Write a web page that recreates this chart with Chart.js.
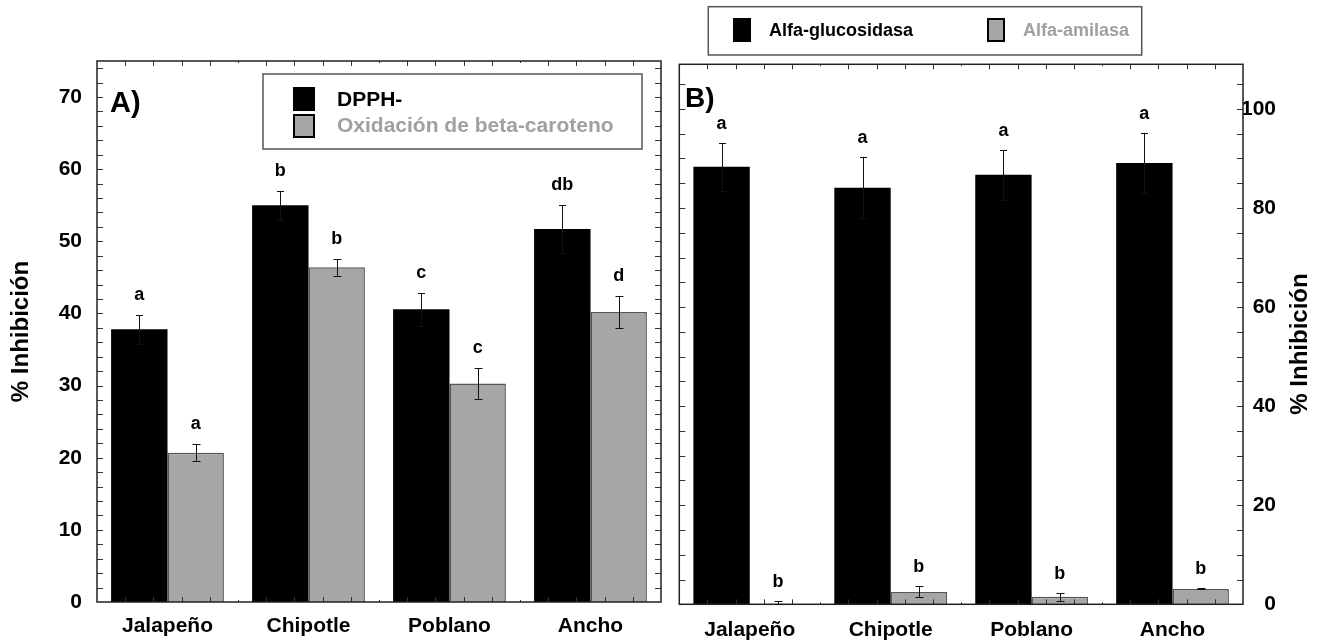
<!DOCTYPE html>
<html><head><meta charset="utf-8">
<script src="https://cdn.jsdelivr.net/npm/chart.js@4.4.1/dist/chart.umd.min.js"></script>
<style>
html,body{margin:0;padding:0;background:#fff;overflow:hidden}
#wrap{position:relative;width:1322px;height:643px;background:#fff}
canvas{position:absolute;top:0}
#cA{left:0}
#cB{left:665px}
</style></head><body>
<div id="wrap"><canvas id="cA" width="665" height="643"></canvas><canvas id="cB" width="657" height="643"></canvas></div>
<script>
// ---------- DATA ----------
const categories = ['Jalapeño', 'Chipotle', 'Poblano', 'Ancho'];

// Panel A
const dpphLabel = 'DPPH-';
const dpphValues = [37.8, 55.0, 40.6, 51.7];
const dpphErrors = [2.0, 2.0, 2.3, 3.3];
const dpphLetters = ['a', 'b', 'c', 'db'];
const betaLabel = 'Oxidación de beta-caroteno';
const betaValues = [20.7, 46.4, 30.3, 40.2];
const betaErrors = [1.15, 1.2, 2.1, 2.2];
const betaLetters = ['a', 'b', 'c', 'd'];
const yTicksA = [0, 10, 20, 30, 40, 50, 60, 70];

// Panel B
const glucoLabel = 'Alfa-glucosidasa';
const glucoValues = [88.3, 84.1, 86.7, 89.1];
const glucoErrors = [4.9, 6.1, 5.0, 6.0];
const glucoLetters = ['a', 'a', 'a', 'a'];
const amilLabel = 'Alfa-amilasa';
const amilValues = [0.1, 2.5, 1.5, 3.1];
const amilErrors = [0.6, 1.1, 0.75, 0.1];
const amilLetters = ['b', 'b', 'b', 'b'];
const yTicksB = [0, 20, 40, 60, 80, 100];

const yTitle = '% Inhibición';

// ---------- STYLE ----------
const FONT = "'Liberation Sans', Arial, Helvetica, sans-serif";
Chart.defaults.font.family = FONT;
function bold(px) { return 'bold ' + px + 'px ' + FONT; }
const BLACK = '#000000';
const GRAY = '#a6a6a6';
const GRAY_EDGE = '#555555';
const GRAY_TEXT = '#a0a0a0';

const decorPlugin = {
  id: 'decor',
  afterDatasetsDraw(chart, args, opts) {
    const ctx = chart.ctx;
    const {left, right, top, bottom} = chart.chartArea;
    const y = chart.scales.y;
    ctx.save();
    // inward tick marks
    ctx.strokeStyle = '#333';
    ctx.lineWidth = 1;
    ctx.beginPath();
    const w = (right - left) / opts.xDiv;
    for (let i = 1; i < opts.xDiv; i++) {
      const x = Math.round(left + i * w) + 0.5;
      const len = (i % opts.xPerCat === 0) ? 2 : 5;
      ctx.moveTo(x, top); ctx.lineTo(x, top + len);
      ctx.moveTo(x, bottom); ctx.lineTo(x, bottom - len);
    }
    for (let v = opts.yMinor; v < y.max; v += opts.yMinor) {
      const py = Math.round(y.getPixelForValue(v)) + 0.5;
      ctx.moveTo(left, py); ctx.lineTo(left + 6, py);
      ctx.moveTo(right, py); ctx.lineTo(right - 6, py);
    }
    ctx.stroke();
    // frame
    ctx.lineWidth = 1.5;
    ctx.strokeStyle = '#222';
    ctx.strokeRect(left, top, right - left, bottom - top);
    // error bars + letters
    chart.data.datasets.forEach((ds, di) => {
      const meta = chart.getDatasetMeta(di);
      const errs = opts.errors[di];
      const lets = opts.letters[di];
      const cap = opts.capHalf[di];
      meta.data.forEach((bar, i) => {
        const v = ds.data[i], e = errs[i];
        const yt = Math.round(y.getPixelForValue(v + e)) + 0.5;
        const yb = Math.round(y.getPixelForValue(Math.max(0, v - e))) + 0.5;
        const x = Math.round(bar.x) + 0.5;
        ctx.strokeStyle = '#111';
        ctx.lineWidth = 1;
        ctx.beginPath();
        ctx.moveTo(x, yt); ctx.lineTo(x, yb);
        ctx.moveTo(x - cap, yt); ctx.lineTo(x + cap, yt);
        ctx.moveTo(x - cap, yb); ctx.lineTo(x + cap, yb);
        ctx.stroke();
        ctx.fillStyle = BLACK;
        ctx.font = bold(18);
        ctx.textAlign = 'center';
        ctx.textBaseline = 'middle';
        ctx.fillText(lets[i], bar.x, yt - opts.letterGap);
      });
    });
    ctx.restore();
  },
  afterDraw(chart, args, opts) {
    const ctx = chart.ctx;
    ctx.save();
    // legend
    const lg = opts.legend;
    ctx.lineWidth = 1.5;
    ctx.strokeStyle = '#555';
    ctx.strokeRect(lg.box[0], lg.box[1], lg.box[2], lg.box[3]);
    chart.data.datasets.forEach((ds, di) => {
      const it = lg.items[di];
      ctx.fillStyle = ds.backgroundColor;
      ctx.fillRect(it.sw[0], it.sw[1], it.sw[2], it.sw[3]);
      if (ds.backgroundColor !== BLACK) {
        ctx.lineWidth = 2;
        ctx.strokeStyle = BLACK;
        ctx.strokeRect(it.sw[0] + 1, it.sw[1] + 1, it.sw[2] - 2, it.sw[3] - 2);
      }
      ctx.fillStyle = lg.textColors[di];
      ctx.font = bold(lg.font);
      ctx.textAlign = 'left';
      ctx.textBaseline = 'middle';
      ctx.fillText(ds.label, it.tx[0], it.tx[1]);
    });
    // panel label
    const pl = opts.panelLabel;
    ctx.fillStyle = BLACK;
    ctx.font = bold(pl.size);
    ctx.textAlign = 'left';
    ctx.textBaseline = 'alphabetic';
    ctx.fillText(pl.text, pl.x, pl.y);
    // side title (reads bottom-to-top)
    if (opts.sideTitle) {
      const st = opts.sideTitle;
      ctx.translate(st.x, st.y);
      ctx.rotate(-Math.PI / 2);
      ctx.font = bold(st.size);
      ctx.textAlign = 'center';
      ctx.textBaseline = 'middle';
      ctx.fillStyle = BLACK;
      ctx.fillText(st.text, 0, 0);
    }
    ctx.restore();
  }
};

const tickFont = {size: 21, weight: 'bold'};

// ---------- PANEL A ----------
new Chart(document.getElementById('cA'), {
  type: 'bar',
  data: {
    labels: categories,
    datasets: [
      {label: dpphLabel, data: dpphValues, backgroundColor: BLACK, borderColor: BLACK, borderWidth: 0},
      {label: betaLabel, data: betaValues, backgroundColor: GRAY, borderColor: GRAY_EDGE, borderWidth: 1.5}
    ]
  },
  options: {
    responsive: false, animation: false, devicePixelRatio: 1,
    datasets: {bar: {categoryPercentage: 0.8, barPercentage: 1.0}},
    layout: {padding: {top: 61, right: 4, left: 0, bottom: 0}},
    plugins: {
      legend: {display: false},
      tooltip: {enabled: false},
      decor: {
        errors: [dpphErrors, betaErrors],
        letters: [dpphLetters, betaLetters],
        capHalf: [3.5, 4],
        letterGap: 20,
        xDiv: 20, xPerCat: 5, yMinor: 2,
        legend: {
          box: [263, 74, 379, 75], font: 21, textColors: [BLACK, GRAY_TEXT],
          items: [{sw: [293, 87, 22, 24], tx: [337, 100]}, {sw: [293, 114, 22, 24], tx: [337, 126]}]
        },
        panelLabel: {text: 'A)', x: 110, y: 112, size: 29}
      }
    },
    scales: {
      x: {
        grid: {display: false, drawTicks: false}, border: {display: false},
        ticks: {font: tickFont, color: BLACK, padding: 12, maxRotation: 0, autoSkip: false},
        afterFit: s => { s.height = 41; }
      },
      y: {
        min: 0, max: 75,
        grid: {display: false, drawTicks: false}, border: {display: false},
        afterBuildTicks: s => { s.ticks = yTicksA.map(v => ({value: v})); },
        ticks: {font: tickFont, color: BLACK, padding: 15, autoSkip: false},
        title: {display: true, text: yTitle, color: BLACK, font: {size: 24, weight: 'bold'}, padding: {top: 7, bottom: 0}},
        afterFit: s => { s.width = 97; }
      }
    }
  },
  plugins: [decorPlugin]
});

// ---------- PANEL B ----------
new Chart(document.getElementById('cB'), {
  type: 'bar',
  data: {
    labels: categories,
    datasets: [
      {label: glucoLabel, data: glucoValues, backgroundColor: BLACK, borderColor: BLACK, borderWidth: 0},
      {label: amilLabel, data: amilValues, backgroundColor: GRAY, borderColor: GRAY_EDGE, borderWidth: 1.5}
    ]
  },
  options: {
    responsive: false, animation: false, devicePixelRatio: 1,
    datasets: {bar: {categoryPercentage: 0.8, barPercentage: 1.0}},
    layout: {padding: {top: 64.3, right: 46, left: 14.3, bottom: 0}},
    plugins: {
      legend: {display: false},
      tooltip: {enabled: false},
      decor: {
        errors: [glucoErrors, amilErrors],
        letters: [glucoLetters, amilLetters],
        capHalf: [3.5, 4],
        letterGap: 19,
        xDiv: 20, xPerCat: 5, yMinor: 5,
        legend: {
          box: [43.3, 6.7, 433.4, 48.3], font: 18, textColors: [BLACK, GRAY_TEXT],
          items: [{sw: [68, 18, 18, 24], tx: [104, 31]}, {sw: [322, 18, 18, 24], tx: [358, 31]}]
        },
        panelLabel: {text: 'B)', x: 20, y: 107, size: 28},
        sideTitle: {text: yTitle, x: 635, y: 344, size: 24}
      }
    },
    scales: {
      x: {
        grid: {display: false, drawTicks: false}, border: {display: false},
        ticks: {font: tickFont, color: BLACK, padding: 13, maxRotation: 0, autoSkip: false},
        afterFit: s => { s.height = 38.7; }
      },
      y: {
        position: 'right', min: 0, max: 109,
        grid: {display: false, drawTicks: false}, border: {display: false},
        afterBuildTicks: s => { s.ticks = yTicksB.map(v => ({value: v})); },
        ticks: {font: tickFont, color: BLACK, padding: 0, crossAlign: 'far', autoSkip: false},
        afterFit: s => { s.width = 33; }
      }
    }
  },
  plugins: [decorPlugin]
});
</script>
</body></html>
